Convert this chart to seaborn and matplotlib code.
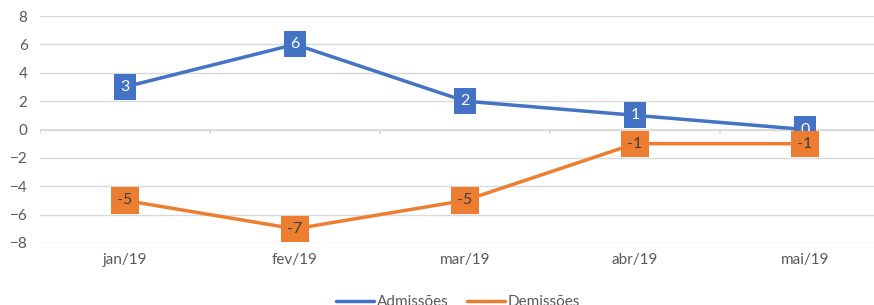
import pandas as pd
import seaborn as sns
import matplotlib.pyplot as plt

months = ["jan/19", "fev/19", "mar/19", "abr/19", "mai/19"]
admissoes = [3, 6, 2, 1, 0]
demissoes = [-5, -7, -5, -1, -1]

blue = "#4472C4"
orange = "#ED7D31"
grid = "#D9D9D9"
text_col = "#595959"

sns.set_theme(style="white")
plt.rcParams['font.family'] = ['Lato', 'DejaVu Sans']

df = pd.concat([
    pd.DataFrame({"mes": months, "valor": admissoes, "serie": "Admissões"}),
    pd.DataFrame({"mes": months, "valor": demissoes, "serie": "Demissões"}),
])

fig = plt.figure(figsize=(8.74, 3.05), dpi=100, facecolor='white')
ax = fig.add_axes([40 / 874, 62 / 305, 850 / 874, 227 / 305])

sns.lineplot(ax=ax, data=df, x="mes", y="valor", hue="serie",
             palette={"Admissões": blue, "Demissões": orange},
             linewidth=2.5, sort=False, legend=False)

# data labels
for vals, col, tc in [(admissoes, blue, "white"), (demissoes, orange, "#404040")]:
    for i, v in enumerate(vals):
        ax.text(i, v, str(v), ha='center', va='center', fontsize=11.5, color=tc,
                bbox=dict(boxstyle='square,pad=0.38', fc=col, ec='none'), zorder=5)

ax.set_xlim(-0.5, len(months) - 0.5)
ax.set_ylim(-8, 8)
ax.set_yticks(range(-8, 9, 2))
ax.yaxis.grid(True, color=grid, linewidth=1)
ax.set_axisbelow(True)
ax.axhline(0, color=grid, linewidth=1.2, zorder=0)
ax.vlines([x - 0.5 for x in range(len(months) + 1)], -0.3, 0, color=grid, linewidth=1.2, zorder=0)
for s in ax.spines.values():
    s.set_visible(False)
ax.tick_params(axis='both', length=0, labelsize=11, colors=text_col)
ax.tick_params(axis='x', pad=7)
ax.tick_params(axis='y', pad=9)
ax.set_xlabel("")
ax.set_ylabel("")

handles = [plt.Line2D([], [], color=blue, linewidth=2.5),
           plt.Line2D([], [], color=orange, linewidth=2.5)]
fig.legend(handles, ["Admissões", "Demissões"], loc='center', ncol=2, frameon=False,
           bbox_to_anchor=(458 / 874, 3 / 305), fontsize=11, labelcolor=text_col,
           handlelength=2.5, handletextpad=0.15, columnspacing=1.2)

fig.savefig("out.png", dpi=100, facecolor='white')
